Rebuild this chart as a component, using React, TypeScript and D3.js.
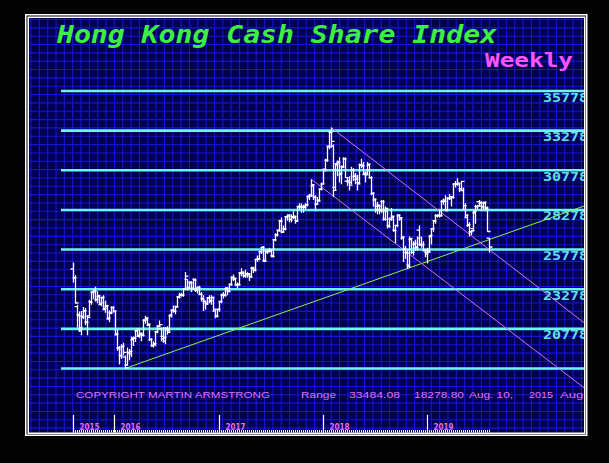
import React from "react";
import * as d3 from "d3";

const W = 609;
const H = 463;

const titleText = "Hong Kong Cash Share Index";
const periodText = "Weekly";
const copyrightText = "COPYRIGHT MARTIN ARMSTRONG";
const startDate = "2015-08-10";

// weekly [open, high, low, close]
const ohlc2015: number[][] = [
  [24552, 24955, 23700, 23991], [23990, 24160, 22380, 22410], [22180, 22300, 20865, 21612],
  [21670, 21870, 20600, 20840], [20650, 21900, 20370, 21504], [21560, 22160, 21400, 21920],
  [21900, 22100, 21000, 21186], [21200, 21620, 20368, 21506], [21600, 22600, 21580, 22458],
  [22500, 23150, 22300, 23067], [23100, 23250, 22650, 23151], [23150, 23440, 22500, 22640],
  [22600, 23150, 22400, 22867], [22800, 22900, 22300, 22396], [22300, 22800, 22200, 22754],
  [22750, 22900, 22000, 22068], [22000, 22550, 21800, 22235], [22200, 22300, 21400, 21464],
  [21400, 21950, 21200, 21755], [21800, 22200, 21700, 22138], [22100, 22200, 21800, 21914],
];
const ohlc2016: number[][] = [
  [21900, 21920, 20400, 20454], [20400, 20700, 19400, 19520], [19600, 19700, 18534, 19080],
  [19100, 19800, 18900, 19683], [19650, 19900, 19100, 19289], [19000, 19100, 18278.8, 18320],
  [18500, 19600, 18450, 19285], [19300, 19500, 18800, 19364], [19200, 20300, 19000, 20176],
  [20100, 20300, 19700, 20199], [20200, 20700, 19950, 20671], [20650, 20800, 20300, 20346],
  [20300, 20800, 20200, 20498], [20450, 20550, 20000, 20370], [20400, 21400, 20300, 21316],
  [21300, 21600, 21100, 21467], [21400, 21500, 21000, 21067], [21000, 21100, 20000, 20109],
  [20100, 20200, 19650, 19719], [19700, 20000, 19600, 19852], [19800, 20600, 19700, 20577],
  [20600, 21000, 20500, 20947], [20950, 21300, 20900, 21042], [20800, 20850, 20000, 20169],
  [20300, 20900, 19900, 20259], [20000, 20900, 19800, 20794], [20800, 20950, 20400, 20564],
  [20700, 21700, 20600, 21659], [21600, 22000, 21500, 21964], [21950, 22250, 21800, 21891],
  [21900, 22200, 21700, 22146], [22200, 22850, 22150, 22767], [22800, 23050, 22700, 22937],
  [22900, 23050, 22800, 22910], [22900, 23300, 22800, 23266], [23300, 24364, 23250, 24099],
  [23900, 23900, 23200, 23335], [23400, 23800, 23350, 23686], [23700, 23800, 23100, 23297],
  [23350, 23950, 23300, 23851], [23900, 23950, 23100, 23233], [23200, 23450, 23000, 23374],
  [23400, 23500, 22900, 22954], [22950, 23100, 22500, 22642], [22700, 22900, 21900, 22531],
  [22500, 22550, 22000, 22344], [22400, 22750, 22300, 22723], [22750, 22900, 22400, 22565],
  [22500, 22900, 22300, 22760], [22750, 22800, 21900, 22020], [21900, 22000, 21450, 21575],
  [21600, 22050, 21500, 22001],
];
const ohlc2017: number[][] = [
  [22000, 22550, 21850, 22503], [22500, 23000, 22400, 22937], [22900, 23100, 22700, 22885],
  [22900, 23400, 22800, 23360], [23300, 23400, 22900, 23129], [23150, 23600, 23100, 23575],
  [23600, 24100, 23500, 24034], [24000, 24200, 23800, 23966], [23900, 24000, 23500, 23553],
  [23550, 23700, 23350, 23569], [23600, 24350, 23500, 24309], [24300, 24600, 24100, 24358],
  [24300, 24400, 24000, 24112], [24150, 24500, 24000, 24267], [24250, 24350, 24000, 24262],
  [24200, 24250, 23800, 24042], [24100, 24700, 24000, 24615], [24600, 24700, 24300, 24477],
  [24500, 25200, 24400, 25156], [25150, 25400, 25000, 25175], [25200, 25700, 25100, 25639],
  [25650, 25950, 25500, 25924], [25900, 26000, 25000, 25030], [25100, 25800, 25000, 25626],
  [25650, 25800, 25500, 25671], [25700, 25900, 25600, 25765], [25700, 25800, 25300, 25341],
  [25400, 26400, 25300, 26389], [26400, 26800, 26300, 26706], [26700, 27000, 26600, 26979],
  [27000, 27600, 26900, 27563], [27600, 27800, 26800, 26884], [26900, 27300, 26850, 27047],
  [27100, 27900, 27000, 27848], [27850, 28000, 27600, 27953], [27900, 28000, 27500, 27668],
  [27700, 28000, 27500, 27807], [27850, 28200, 27700, 27880], [27800, 27900, 27400, 27554],
  [27600, 28500, 27600, 28458], [28500, 28700, 28300, 28476], [28500, 28700, 28100, 28487],
  [28450, 28600, 28100, 28439], [28500, 28700, 28300, 28604], [28600, 29200, 28500, 29120],
  [29100, 29300, 28900, 29199], [29200, 30200, 29100, 29866], [29800, 29900, 28900, 29074],
  [29100, 29200, 28200, 28640], [28650, 29100, 28600, 28848], [28900, 29600, 28800, 29578],
  [29600, 30000, 29500, 29919],
];
const ohlc2018: number[][] = [
  [29900, 30850, 29900, 30815], [30850, 31500, 30700, 31413], [31400, 32300, 31300, 32255],
  [32300, 33200, 32100, 33154], [33200, 33484.08, 32200, 32601], [32300, 32400, 29100, 29507],
  [29700, 31200, 29500, 31115], [31200, 31400, 30400, 31268], [31300, 31600, 30000, 30583],
  [30500, 31100, 29900, 30996], [31000, 31600, 30900, 31502], [31500, 31600, 30300, 30309],
  [30100, 30300, 29800, 30093], [30100, 30400, 29500, 29844], [30000, 31000, 29900, 30808],
  [30800, 30900, 30100, 30418], [30400, 30600, 29900, 30281], [30200, 30500, 29500, 29927],
  [30000, 31200, 29900, 31122], [31100, 31500, 30900, 31048], [31100, 31300, 30500, 30588],
  [30500, 30700, 30000, 30492], [30600, 31300, 30500, 31158], [31100, 31200, 30300, 30309],
  [30300, 30400, 29200, 29339], [29300, 29400, 28500, 28955], [28900, 29000, 28100, 28316],
  [28500, 28800, 28000, 28525], [28600, 28600, 28000, 28224], [28300, 28900, 28100, 28804],
  [28800, 28900, 27600, 27676], [27700, 28500, 27600, 28367], [28200, 28300, 27100, 27213],
  [27300, 27800, 27200, 27671], [27700, 28400, 27600, 27888], [27800, 27900, 26900, 26973],
  [27000, 27300, 26200, 27286], [27300, 28000, 27200, 27953], [27900, 28000, 27600, 27788],
  [27700, 27800, 26400, 26572], [26500, 26600, 25000, 25801], [25800, 26000, 25200, 25561],
  [25600, 25800, 24540, 24717], [24800, 26600, 24600, 26486], [26400, 26500, 25500, 25601],
  [25600, 26300, 25400, 26183], [26100, 26400, 25700, 25928], [25900, 26600, 25700, 26506],
  [27000, 27300, 26000, 26063], [26100, 26600, 25900, 26094], [26100, 26300, 25700, 25753],
  [25700, 25800, 25300, 25504], [25600, 25900, 24900, 25626],
];
const ohlc2019: number[][] = [
  [25700, 26700, 25600, 26667], [26600, 27100, 26100, 27090], [27100, 27600, 26900, 27569],
  [27600, 28000, 27400, 27931], [27900, 28000, 27800, 27946], [27900, 28300, 27800, 27901],
  [27900, 28900, 27900, 28816], [28800, 29000, 28600, 28812], [28900, 29200, 28200, 28228],
  [28300, 29100, 28200, 29012], [29000, 29300, 28900, 29113], [29000, 29100, 28500, 29051],
  [29100, 29950, 29000, 29936], [29900, 30100, 29700, 29909], [29900, 30280, 29800, 29963],
  [29900, 29950, 29400, 29605], [29600, 30100, 29500, 30082], [29500, 29700, 28300, 28550],
  [28300, 28700, 27800, 27946], [27800, 28000, 27200, 27354], [27300, 27500, 26600, 26901],
  [26900, 27000, 26700, 26965], [27100, 28300, 27000, 28202], [28100, 28600, 27400, 28473],
  [28500, 28600, 28300, 28543], [28800, 28900, 28500, 28775], [28700, 28800, 28200, 28471],
  [28500, 28800, 28300, 28765], [28700, 28800, 28200, 28397], [28400, 28500, 26900, 26919],
  [26500, 26500, 25600, 25939],
];

const priceLevels = [18278, 20778, 23278, 25778, 28278, 30778, 33278, 35778];
const labelledLevels = [20778, 23278, 25778, 28278, 30778, 33278, 35778];

const yearTicks = [
  { date: "2015-08-10", label: "2015" },
  { date: "2016-01-01", label: "2016" },
  { date: "2017-01-01", label: "2017" },
  { date: "2018-01-01", label: "2018" },
  { date: "2019-01-01", label: "2019" },
];

const trendLine = [
  { date: "2016-02-08", price: 18278.8 },
  { date: "2020-07-13", price: 28589 },
];
const channelUpper = [
  { date: "2018-01-29", price: 33484.08 },
  { date: "2020-07-13", price: 21021 },
];
const channelLower = [
  { date: "2017-11-20", price: 30230 },
  { date: "2020-07-13", price: 16922 },
];

const parse = d3.utcParse("%Y-%m-%d");

export default function App() {
  const bars = [...ohlc2015, ...ohlc2016, ...ohlc2017, ...ohlc2018, ...ohlc2019].map((r, i) => ({
    date: d3.utcDay.offset(parse(startDate) as Date, 7 * i),
    open: r[0],
    high: r[1],
    low: r[2],
    close: r[3],
  }));

  const x = d3
    .scaleUtc()
    .domain([bars[0].date, bars[bars.length - 1].date])
    .range([73, 489]);
  const y = d3.scaleLinear().domain([18278, 35778]).range([368.5, 91]);

  const inner = { x: 29, y: 18, w: 555, h: 414.5 };
  const gridStep = 8.34;
  const vGrid = d3.range(inner.x + 2, inner.x + inner.w, gridStep);
  const hGrid = d3.range(inner.y + 1.5, inner.y + inner.h, gridStep);

  const line = d3
    .line<{ date: string; price: number }>()
    .x((d) => x(parse(d.date) as Date))
    .y((d) => y(d.price));

  const hi = d3.max(bars, (d) => d.high) as number;
  const lo = d3.min(bars, (d) => d.low) as number;
  const fmt = d3.format(".2f");
  const startD = parse(startDate) as Date;
  const monthFmt = d3.utcFormat("%b.");

  const magenta = "#e070f0";
  const cyan = "#6ef2f2";

  return (
    <svg
      width={W}
      height={H}
      style={{ position: "fixed", left: 0, top: 0, display: "block" }}
    >
      <defs>
        <clipPath id="plot">
          <rect x={inner.x} y={inner.y} width={inner.w} height={inner.h} />
        </clipPath>
      </defs>
      <rect x={0} y={0} width={W} height={H} fill="#030303" />
      <rect x={25.75} y={14.75} width={561} height={420.5} fill="none" stroke="#fff" strokeWidth={1.5} />
      <rect x={inner.x} y={inner.y} width={inner.w} height={inner.h} fill="#00004e" />
      <g clipPath="url(#plot)">
        <g stroke="#1414d8" strokeWidth={1.1}>
          {vGrid.map((gx, i) => (
            <line key={"v" + i} x1={gx} x2={gx} y1={inner.y} y2={inner.y + inner.h} />
          ))}
          {hGrid.map((gy, i) => (
            <line key={"h" + i} x1={inner.x} x2={inner.x + inner.w} y1={gy} y2={gy} />
          ))}
        </g>
        {priceLevels.map((p) => (
          <line key={p} x1={61} x2={inner.x + inner.w} y1={y(p)} y2={y(p)} stroke={cyan} strokeWidth={2.6} />
        ))}
        {labelledLevels.map((p) => (
          <text
            key={"l" + p}
            x={588}
            y={y(p) + 10.5}
            textAnchor="end"
            fontFamily="DejaVu Sans Mono"
            fontWeight="bold"
            fontSize={13}
            fill="#5fe0e0"
            textLength={45}
            lengthAdjust="spacingAndGlyphs"
          >
            {p}
          </text>
        ))}
        <path d={line(trendLine) as string} stroke="#8cf060" strokeWidth={1} fill="none" />
        <path d={line(channelUpper) as string} stroke="#d070f0" strokeWidth={1} fill="none" />
        <path d={line(channelLower) as string} stroke="#d070f0" strokeWidth={1} fill="none" />
        <g stroke="#ffffff" strokeWidth={1.3}>
          {bars.map((b, i) => {
            const bx = Math.round(x(b.date)) + 0.5;
            return (
              <g key={i}>
                <line x1={bx} x2={bx} y1={y(b.high)} y2={y(b.low)} />
                <line x1={bx - 3} x2={bx} y1={y(b.open)} y2={y(b.open)} />
                <line x1={bx} x2={bx + 3} y1={y(b.close)} y2={y(b.close)} />
              </g>
            );
          })}
        </g>
        <text
          x={57}
          y={43}
          fontFamily="DejaVu Sans Mono"
          fontWeight="bold"
          fontStyle="italic"
          fontSize={25}
          fill="#3ef03e"
          textLength={440}
          lengthAdjust="spacingAndGlyphs"
        >
          {titleText}
        </text>
        <text
          x={485}
          y={67}
          fontFamily="DejaVu Sans Mono"
          fontWeight="bold"
          fontSize={19}
          fill="#ff55ff"
          textLength={88}
          lengthAdjust="spacingAndGlyphs"
        >
          {periodText}
        </text>
        <g fontFamily="Liberation Sans, Arial, sans-serif" fontSize={9.5} fill={magenta}>
          <text x={76} y={397.5} textLength={194} lengthAdjust="spacingAndGlyphs">{copyrightText}</text>
          <text x={301} y={397.5} textLength={35} lengthAdjust="spacingAndGlyphs">Range</text>
          <text x={349} y={397.5} textLength={51} lengthAdjust="spacingAndGlyphs">{fmt(hi)}</text>
          <text x={414} y={397.5} textLength={50} lengthAdjust="spacingAndGlyphs">{fmt(lo)}</text>
          <text x={469} y={397.5} textLength={44} lengthAdjust="spacingAndGlyphs">
            {monthFmt(startD) + " " + d3.utcFormat("%d,")(startD)}
          </text>
          <text x={529} y={397.5} textLength={24} lengthAdjust="spacingAndGlyphs">{d3.utcFormat("%Y")(startD)}</text>
          <text x={560} y={397.5} textLength={27} lengthAdjust="spacingAndGlyphs">{monthFmt(startD)}</text>
        </g>
        <g>
          {yearTicks.map((t) => {
            const tx = Math.round(x(parse(t.date) as Date)) + 0.5;
            return (
              <g key={t.label}>
                <line x1={tx} x2={tx} y1={415} y2={433} stroke="#fff" strokeWidth={1.2} />
                <text
                  x={tx + 6}
                  y={429.5}
                  fontFamily="DejaVu Sans, sans-serif"
                  fontWeight="bold"
                  fontSize={8.5}
                  fill={magenta}
                  textLength={20}
                  lengthAdjust="spacingAndGlyphs"
                >
                  {t.label}
                </text>
              </g>
            );
          })}
          {bars.map((b, i) => {
            const bx = Math.round(x(b.date)) + 0.5;
            return (
              <line key={"t" + i} x1={bx} x2={bx} y1={430} y2={433} stroke="#fff" strokeWidth={1} shapeRendering="crispEdges" />
            );
          })}
        </g>
      </g>
      <rect x={28.25} y={17.25} width={556.5} height={416} fill="none" stroke="#fff" strokeWidth={1.5} />
    </svg>
  );
}
